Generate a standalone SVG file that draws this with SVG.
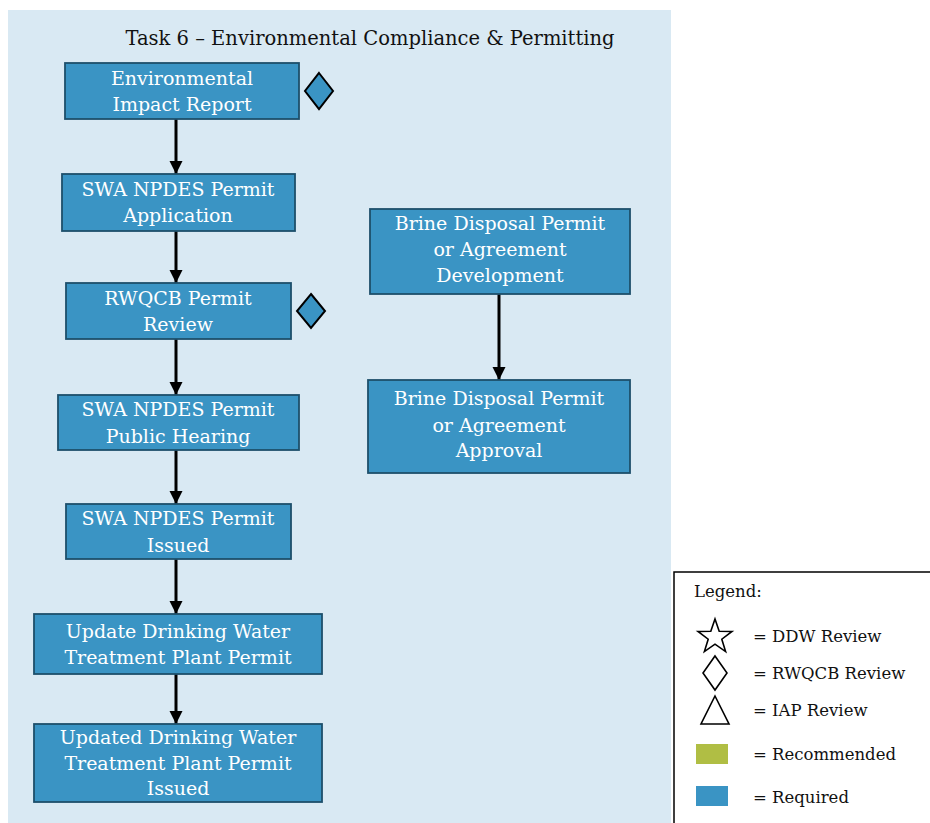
<svg xmlns="http://www.w3.org/2000/svg" width="930" height="823" viewBox="0 0 930 823">
  <defs>
    <marker id="arrow" viewBox="0 0 10 10" refX="10" refY="5" markerWidth="4.5" markerHeight="4.5" orient="auto" markerUnits="strokeWidth">
      <path d="M0,0 L10,5 L0,10 z" fill="#000"/>
    </marker>
    <style>
      .panel { fill: #d9e9f3; }
      .box { fill: #3a94c4; stroke: #1d4f6b; stroke-width: 1.8; }
      .lbl { font-family: "DejaVu Serif", "Liberation Serif", serif; font-size: 19px; fill: #ffffff; text-anchor: middle; }
      .title { font-family: "DejaVu Serif", "Liberation Serif", serif; font-size: 19.5px; fill: #111; }
      .conn { stroke: #000; stroke-width: 3; fill: none; marker-end: url(#arrow); }
      .rev { fill: #3a94c4; stroke: #000; stroke-width: 2; }
      .lg { font-family: "DejaVu Serif", "Liberation Serif", serif; font-size: 16.5px; fill: #111; }
      .sym { fill: #fff; stroke: #000; stroke-width: 1.6; }
    </style>
  </defs>

  <rect class="panel" x="8" y="10" width="663" height="813"/>
  <text class="title" x="370" y="45" text-anchor="middle">Task 6 – Environmental Compliance &amp; Permitting</text>

  <!-- connectors -->
  <g id="connectors">
    <line class="conn" x1="176" y1="119" x2="176" y2="174"/>
    <line class="conn" x1="176" y1="231" x2="176" y2="283"/>
    <line class="conn" x1="176" y1="339" x2="176" y2="395"/>
    <line class="conn" x1="176" y1="450" x2="176" y2="504"/>
    <line class="conn" x1="176" y1="559" x2="176" y2="614"/>
    <line class="conn" x1="176" y1="674" x2="176" y2="724"/>
    <line class="conn" x1="499" y1="294" x2="499" y2="380"/>
  </g>

  <g id="eir">
    <rect class="box" x="65" y="63" width="234" height="56"/>
    <text class="lbl" x="182" y="85">Environmental</text>
    <text class="lbl" x="182" y="111">Impact Report</text>
    <path class="rev" d="M319,73 L333,91 L319,109 L305,91 z"/>
  </g>
  <g id="npdes-application">
    <rect class="box" x="62" y="174" width="233" height="57"/>
    <text class="lbl" x="178" y="196">SWA NPDES Permit</text>
    <text class="lbl" x="178" y="222">Application</text>
  </g>
  <g id="rwqcb-review">
    <rect class="box" x="66" y="283" width="225" height="56"/>
    <text class="lbl" x="178" y="305">RWQCB Permit</text>
    <text class="lbl" x="178" y="331">Review</text>
    <path class="rev" d="M311,294 L325,311 L311,328 L297,311 z"/>
  </g>
  <g id="public-hearing">
    <rect class="box" x="58" y="395" width="241" height="55"/>
    <text class="lbl" x="178" y="416">SWA NPDES Permit</text>
    <text class="lbl" x="178" y="443">Public Hearing</text>
  </g>
  <g id="npdes-issued">
    <rect class="box" x="66" y="504" width="225" height="55"/>
    <text class="lbl" x="178" y="525">SWA NPDES Permit</text>
    <text class="lbl" x="178" y="552">Issued</text>
  </g>
  <g id="update-dwtp">
    <rect class="box" x="34" y="614" width="288" height="60"/>
    <text class="lbl" x="178" y="638">Update Drinking Water</text>
    <text class="lbl" x="178" y="664">Treatment Plant Permit</text>
  </g>
  <g id="dwtp-issued">
    <rect class="box" x="34" y="724" width="288" height="78"/>
    <text class="lbl" x="178" y="744">Updated Drinking Water</text>
    <text class="lbl" x="178" y="770">Treatment Plant Permit</text>
    <text class="lbl" x="178" y="795">Issued</text>
  </g>
  <g id="brine-development">
    <rect class="box" x="370" y="209" width="260" height="85"/>
    <text class="lbl" x="500" y="230">Brine Disposal Permit</text>
    <text class="lbl" x="500" y="256">or Agreement</text>
    <text class="lbl" x="500" y="282">Development</text>
  </g>
  <g id="brine-approval">
    <rect class="box" x="368" y="380" width="262" height="93"/>
    <text class="lbl" x="499" y="405">Brine Disposal Permit</text>
    <text class="lbl" x="499" y="432">or Agreement</text>
    <text class="lbl" x="499" y="457">Approval</text>
  </g>

  <!-- legend -->
  <g id="legend">
    <rect x="674" y="572" width="260" height="260" fill="#fff" stroke="#000" stroke-width="1.5"/>
    <text class="lg" x="694" y="597" font-size="19">Legend:</text>
    <path class="sym" d="M715,619 L719.2,631.2 L732,631.4 L721.8,639.2 L725.6,651.6 L715,644.2 L704.4,651.6 L708.2,639.2 L698,631.4 L710.8,631.2 z"/>
    <text class="lg" x="753" y="642">= DDW Review</text>
    <path class="sym" d="M715,656 L727,673 L715,690 L703,673 z"/>
    <text class="lg" x="753" y="679">= RWQCB Review</text>
    <path class="sym" d="M715,696 L729,724 L701,724 z"/>
    <text class="lg" x="753" y="716">= IAP Review</text>
    <rect x="696" y="744" width="32" height="20" fill="#b0be44"/>
    <text class="lg" x="753" y="760">= Recommended</text>
    <rect x="696" y="786" width="32" height="20" fill="#3a94c4"/>
    <text class="lg" x="753" y="803">= Required</text>
  </g>
</svg>
